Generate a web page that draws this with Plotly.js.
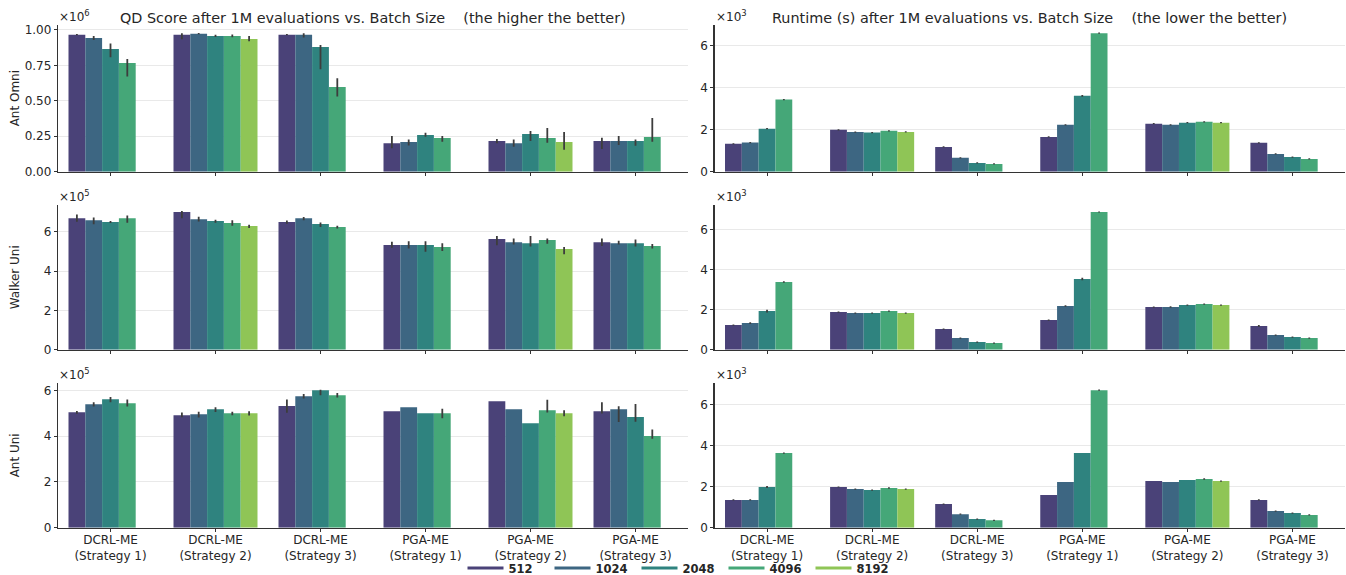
<!DOCTYPE html>
<html>
<head>
<meta charset="utf-8">
<script src="https://cdn.plot.ly/plotly-3.0.1.min.js"></script>
<style>html,body{margin:0;padding:0;background:#fff}#chart{width:1346px;height:575px}</style>
</head>
<body>
<div id="chart"></div>
<script>
// ---------- data ----------
const categories = ["DCRL-ME<br>(Strategy 1)", "DCRL-ME<br>(Strategy 2)", "DCRL-ME<br>(Strategy 3)",
                    "PGA-ME<br>(Strategy 1)", "PGA-ME<br>(Strategy 2)", "PGA-ME<br>(Strategy 3)"];
const batchSizes = ["512", "1024", "2048", "4096", "8192"];
const rowLabels = ["Ant Omni", "Walker Uni", "Ant Uni"];
const colTitles = ["QD Score after 1M evaluations vs. Batch Size    (the higher the better)",
                   "Runtime (s) after 1M evaluations vs. Batch Size    (the lower the better)"];
const qdExponents = ["6", "5", "5"];
const runtimeExponent = "3";

// rows = batch size (512..8192), columns = categories; values in units of 10^exponent
const antOmniQD = [
  [0.967, 0.967, 0.967, 0.200, 0.216, 0.216],
  [0.944, 0.974, 0.967, 0.209, 0.200, 0.216],
  [0.866, 0.958, 0.880, 0.259, 0.266, 0.216],
  [0.767, 0.958, 0.598, 0.238, 0.238, 0.245],
  [null,  0.936, null,  null,  0.209, null ]
];
const antOmniQDErrUp = [
  [0.005, 0.009, 0.004, 0.052, 0.014, 0.024],
  [0.014, 0.005, 0.009, 0.019, 0.028, 0.035],
  [0.038, 0.008, 0.014, 0.016, 0.021, 0.012],
  [0.028, 0.010, 0.061, 0.014, 0.071, 0.134],
  [null,  0.021, null,  null,  0.071, null ]
];
const antOmniQDErrDown = [
  [0.005, 0.033, 0.004, 0.035, 0.016, 0.056],
  [0.014, 0.005, 0.021, 0.024, 0.024, 0.028],
  [0.059, 0.008, 0.158, 0.012, 0.049, 0.033],
  [0.096, 0.010, 0.068, 0.026, 0.033, 0.033],
  [null,  0.016, null,  null,  0.054, null ]
];

const walkerUniQD = [
  [6.68, 7.00, 6.49, 5.32, 5.63, 5.47],
  [6.58, 6.64, 6.68, 5.32, 5.47, 5.42],
  [6.49, 6.54, 6.39, 5.32, 5.42, 5.42],
  [6.68, 6.44, 6.24, 5.22, 5.58, 5.27],
  [null, 6.29, null, null, 5.12, null]
];
const walkerUniQDErrUp = [
  [0.20, 0.05, 0.08, 0.17, 0.15, 0.19],
  [0.14, 0.12, 0.07, 0.20, 0.19, 0.12],
  [0.05, 0.07, 0.08, 0.20, 0.36, 0.19],
  [0.15, 0.14, 0.07, 0.20, 0.08, 0.10],
  [null, 0.07, null, null, 0.10, null]
];
const walkerUniQDErrDown = [
  [0.17, 0.32, 0.08, 0.14, 0.32, 0.19],
  [0.20, 0.12, 0.10, 0.17, 0.12, 0.07],
  [0.05, 0.08, 0.15, 0.34, 0.17, 0.17],
  [0.22, 0.14, 0.08, 0.20, 0.19, 0.12],
  [null, 0.10, null, null, 0.27, null]
];

const antUniQD = [
  [5.04, 4.91, 5.31, 5.09, 5.52, 5.09],
  [5.39, 4.96, 5.74, 5.26, 5.17, 5.17],
  [5.61, 5.17, 6.00, 5.00, 4.56, 4.83],
  [5.44, 5.00, 5.79, 5.00, 5.13, 4.00],
  [null, 5.00, null, null, 5.00, null]
];
const antUniQDErrUp = [
  [0.06, 0.12, 0.29, 0.00, 0.00, 0.39],
  [0.09, 0.10, 0.10, 0.00, 0.00, 0.13],
  [0.10, 0.09, 0.03, 0.00, 0.00, 0.57],
  [0.16, 0.06, 0.09, 0.20, 0.46, 0.29],
  [null, 0.09, null, null, 0.13, null]
];
const antUniQDErrDown = [
  [0.06, 0.09, 0.29, 0.00, 0.00, 0.10],
  [0.10, 0.15, 0.10, 0.00, 0.00, 0.55],
  [0.13, 0.12, 0.22, 0.00, 0.00, 0.20],
  [0.15, 0.09, 0.10, 0.22, 0.10, 0.12],
  [null, 0.10, null, null, 0.13, null]
];

const antOmniTime = [
  [1.33, 2.00, 1.18, 1.66, 2.29, 1.38],
  [1.39, 1.89, 0.66, 2.24, 2.24, 0.85],
  [2.05, 1.87, 0.42, 3.62, 2.34, 0.70],
  [3.44, 1.95, 0.37, 6.61, 2.38, 0.61],
  [null, 1.90, null, null, 2.34, null]
];
const antOmniTimeErr = [
  [0.03, 0.03, 0.03, 0.03, 0.03, 0.03],
  [0.03, 0.03, 0.03, 0.03, 0.03, 0.03],
  [0.03, 0.03, 0.03, 0.04, 0.03, 0.03],
  [0.03, 0.03, 0.03, 0.03, 0.03, 0.03],
  [null, 0.03, null, null, 0.03, null]
];

const walkerUniTime = [
  [1.23, 1.88, 1.03, 1.48, 2.13, 1.18],
  [1.33, 1.83, 0.58, 2.18, 2.13, 0.73],
  [1.93, 1.83, 0.38, 3.53, 2.23, 0.63],
  [3.38, 1.93, 0.33, 6.88, 2.28, 0.58],
  [null, 1.83, null, null, 2.23, null]
];
const walkerUniTimeErr = [
  [0.03, 0.03, 0.03, 0.03, 0.03, 0.05],
  [0.04, 0.03, 0.03, 0.04, 0.04, 0.03],
  [0.07, 0.03, 0.03, 0.06, 0.03, 0.03],
  [0.04, 0.03, 0.03, 0.03, 0.03, 0.03],
  [null, 0.03, null, null, 0.03, null]
];

const antUniTime = [
  [1.35, 1.98, 1.15, 1.59, 2.27, 1.35],
  [1.35, 1.88, 0.66, 2.22, 2.22, 0.81],
  [1.98, 1.83, 0.42, 3.63, 2.32, 0.71],
  [3.63, 1.93, 0.36, 6.69, 2.37, 0.62],
  [null, 1.88, null, null, 2.27, null]
];
const antUniTimeErr = [
  [0.03, 0.03, 0.03, 0.00, 0.00, 0.03],
  [0.03, 0.03, 0.03, 0.00, 0.00, 0.03],
  [0.05, 0.03, 0.03, 0.00, 0.00, 0.03],
  [0.03, 0.04, 0.03, 0.03, 0.04, 0.03],
  [null, 0.03, null, null, 0.03, null]
];

// ---------- style ----------
const colors = ["#4a4278", "#3d6682", "#2f837f", "#45a778", "#8fc556"];
const FONT = "DejaVu Sans, Liberation Sans, sans-serif";
const W = 1346, H = 575;
const px = v => v / W;
const py = v => 1 - v / H;

// panel definitions: subplot index -> data
const panels = [
  {vals: antOmniQD,    up: antOmniQDErrUp,   dn: antOmniQDErrDown,   range: [0, 1.035], dtick: 0.25, fmt: ".2f"},
  {vals: antOmniTime,  up: antOmniTimeErr,   dn: antOmniTimeErr,     range: [0, 7.0],   dtick: 2,    fmt: "d"},
  {vals: walkerUniQD,  up: walkerUniQDErrUp, dn: walkerUniQDErrDown, range: [0, 7.36],  dtick: 2,    fmt: "d"},
  {vals: walkerUniTime,up: walkerUniTimeErr, dn: walkerUniTimeErr,   range: [0, 7.23],  dtick: 2,    fmt: "d"},
  {vals: antUniQD,     up: antUniQDErrUp,    dn: antUniQDErrDown,    range: [0, 6.32],  dtick: 2,    fmt: "d"},
  {vals: antUniTime,   up: antUniTimeErr,    dn: antUniTimeErr,      range: [0, 7.04],  dtick: 2,    fmt: "d"}
];

const colDomains = [[px(58), px(688)], [px(714.5), px(1345)]];
const rowPix = [[25, 171.7], [205, 349.7], [383, 527.7]];
const rowDomains = rowPix.map(r => [py(r[1]), py(r[0])]);

const traces = [];
const layout = {
  width: W, height: H,
  margin: {l: 0, r: 0, t: 0, b: 0, autoexpand: false},
  paper_bgcolor: "#ffffff", plot_bgcolor: "#ffffff",
  barmode: "group", bargap: 0.2, bargroupgap: 0,
  font: {family: FONT, size: 12, color: "#262626"},
  showlegend: true,
  legend: {orientation: "h", x: px(680), xanchor: "center", y: py(568), yanchor: "middle",
           entrywidth: 36, entrywidthmode: "pixels", itemwidth: 36,
           font: {family: FONT, size: 11.5, color: "#262626", weight: "bold"},
           bgcolor: "rgba(0,0,0,0)", traceorder: "normal"},
  annotations: []
};

panels.forEach((p, i) => {
  const n = i + 1;
  const row = Math.floor(i / 2), col = i % 2;
  const xa = n === 1 ? "x" : "x" + n, ya = n === 1 ? "y" : "y" + n;
  batchSizes.forEach((b, k) => {
    traces.push({
      type: "bar", name: b, x: categories, y: p.vals[k],
      xaxis: xa, yaxis: ya, showlegend: false,
      marker: {color: colors[k], line: {width: 0}},
      error_y: {type: "data", symmetric: false, array: p.up[k], arrayminus: p.dn[k],
                color: "#3d3d3d", thickness: 1.8, width: 0},
      hoverinfo: "skip"
    });
  });
  const axCommon = {
    showline: true, linecolor: "#333333", linewidth: 1.2,
    ticks: "outside", ticklen: 3, tickwidth: 1, tickcolor: "#333333",
    tickfont: {family: FONT, size: 12, color: "#262626"},
    fixedrange: true
  };
  layout[n === 1 ? "xaxis" : "xaxis" + n] = Object.assign({}, axCommon, {
    domain: colDomains[col], anchor: ya, type: "category",
    categoryorder: "array", categoryarray: categories,
    range: [-0.5, 5.5], showgrid: false, zeroline: false,
    showticklabels: row === 2, ticklabelstandoff: -2
  });
  layout[n === 1 ? "yaxis" : "yaxis" + n] = Object.assign({}, axCommon, {
    domain: rowDomains[row], anchor: xa, range: p.range,
    dtick: p.dtick, tick0: 0, tickformat: p.fmt,
    showgrid: true, gridcolor: "#e9e9e9", gridwidth: 1, zeroline: false
  });
  // exponent label
  const exp = col === 0 ? qdExponents[row] : runtimeExponent;
  layout.annotations.push({
    xref: "paper", yref: "paper", x: colDomains[col][0], y: rowDomains[row][1],
    xanchor: "left", yanchor: "bottom", yshift: -1, xshift: -1,
    text: "×10<sup>" + exp + "</sup>", showarrow: false,
    font: {family: FONT, size: 12, color: "#262626"}
  });
});

// row labels
rowLabels.forEach((t, r) => {
  layout.annotations.push({
    xref: "paper", yref: "paper", x: px(15), y: (rowDomains[r][0] + rowDomains[r][1]) / 2,
    xanchor: "center", yanchor: "middle", textangle: -90, text: t, showarrow: false,
    font: {family: FONT, size: 12, color: "#262626"}
  });
});

// column titles
colTitles.forEach((t, c) => {
  layout.annotations.push({
    xref: "paper", yref: "paper", x: (colDomains[c][0] + colDomains[c][1]) / 2, y: py(18),
    xanchor: "center", yanchor: "middle", text: t, showarrow: false,
    font: {family: FONT, size: 14.4, color: "#262626"}
  });
});

// legend entries (line style keys)
batchSizes.forEach((b, k) => {
  traces.push({
    type: "scatter", mode: "lines", name: b, x: [null], y: [null],
    xaxis: "x", yaxis: "y", line: {color: colors[k], width: 3},
    showlegend: true, hoverinfo: "skip"
  });
});

Plotly.newPlot("chart", traces, layout, {displayModeBar: false, staticPlot: true});
</script>
</body>
</html>
